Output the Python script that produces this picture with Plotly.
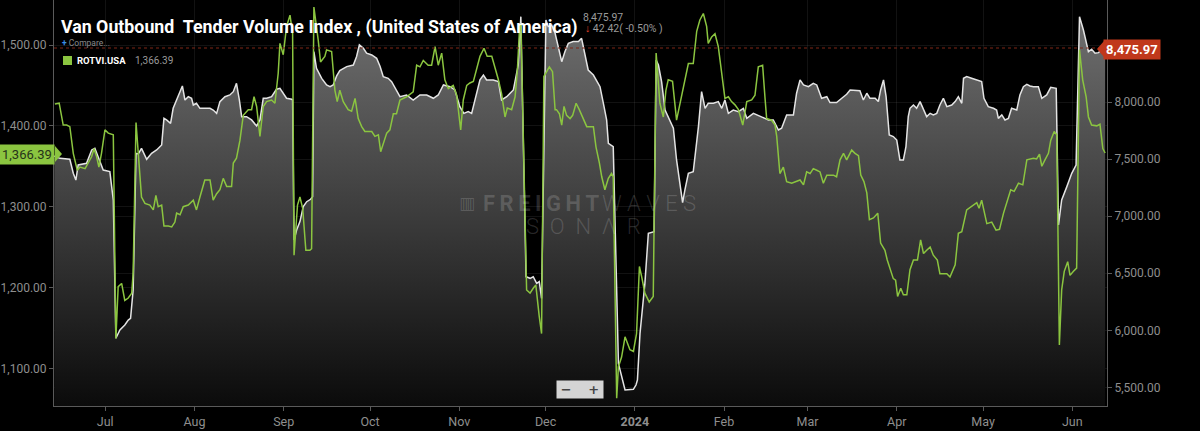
import pandas as pd
import plotly.graph_objects as go

BASE_DATE = "2023-07-01"

month_ticks = ["2023-07-01", "2023-08-01", "2023-09-01", "2023-10-01", "2023-11-01", "2023-12-01",
               "2024-01-01", "2024-02-01", "2024-03-01", "2024-04-01", "2024-05-01", "2024-06-01"]
month_labels = ["Jul", "Aug", "Sep", "Oct", "Nov", "Dec", "<b>2024</b>", "Feb", "Mar", "Apr", "May", "Jun"]

left_ticks = [1100, 1200, 1300, 1400, 1500]
right_ticks = [5500, 6000, 6500, 7000, 7500, 8000]

# ROTVI.USA (green, left axis): days since 2023-07-01 and values
rotvi_days = [
    -17.5, -16.0, -14.6, -13.4, -12.3, -11.1, -9.7, -8.8, -7.0, -5.9, -4.7, -3.9, -3.0, -2.2, -1.3, -0.1,
    1.05, 2.8, 3.7, 4.5, 5.7, 6.8, 8.0, 9.2, 9.7, 10.7, 11.5, 12.6, 13.8, 15.5, 16.7, 17.6, 18.4, 19.6,
    20.4, 21.9, 23.1, 24.2, 24.8, 26.0, 27.1, 28.85, 30.6, 31.7, 32.9, 34.6, 36.4, 37.5, 38.7, 39.85,
    41.0, 42.2, 43.9, 44.5, 45.6, 46.8, 47.96, 49.7, 50.85, 51.7, 52.6, 53.75, 54.9, 56.07, 57.8, 58.96,
    60.1, 60.7, 61.85, 63.0, 64.2, 65.1, 65.6, 66.8, 67.65, 68.6, 69.7, 71.1, 71.7, 72.5, 74.0, 74.8,
    76.3, 76.9, 78.65, 79.8, 80.6, 81.5, 82.7, 84.4, 85.6, 86.8, 87.9, 89.1, 90.2, 92.6, 93.7, 94.9,
    95.7, 96.6, 97.8, 98.9, 100.1, 101.2, 102.4,
    104.7, 107.0, 108.2, 109.35, 110.5, 112.2, 113.4, 114.6, 115.7, 116.9, 118.0, 119.2, 120.9, 122.1,
    123.5, 124.4, 125.6, 126.7, 127.9, 129.0, 130.2, 131.6, 132.7, 134.3, 135.4, 136.6, 137.7, 138.9,
    139.7, 141.2, 142.4, 143.2, 143.9, 144.4, 146.4, 147.6, 148.7, 149.6, 150.8, 151.6, 152.4, 154.3,
    155.4, 156.3, 156.8, 157.8, 158.6, 159.4, 160.3, 161.5, 162.4, 163.6, 164.7, 166.1, 167.3, 169.6,
    170.5, 171.7, 172.5, 173.6, 174.8, 175.9, 176.5, 177.7, 178.3, 179.4, 180.6, 182.3, 183.5, 184.6,
    185.6, 186.4, 187.5, 189.0, 190.4, 191.4, 192.2, 192.7, 193.9, 194.8, 195.6, 197.1, 198.5, 199.7,
    201.4, 202.6, 204.3, 205.5, 206.6, 207.8, 208.95, 209.5, 210.7, 211.85, 213.0, 214.2, 215.3, 216.5,
    217.6, 218.8, 220.0, 221.5, 222.9, 224.6, 225.75, 226.9, 228.4, 229.2, 229.8, 231.5, 232.7, 233.3,
    234.4, 235.6, 236.75, 238.5, 240.2, 241.4,
    242.6, 243.7, 244.9, 246.0, 247.2, 248.35, 249.5, 250.7, 253.0, 254.1, 255.3, 256.5, 257.6, 259.35,
    260.5, 261.7, 262.5, 263.6, 264.6, 265.5, 266.9, 268.4, 269.4, 270.9, 271.7, 272.7, 273.8, 274.6,
    275.3, 276.4, 277.3, 278.5, 279.6, 280.8, 282.2, 283.3, 284.3, 285.4, 286.6, 287.7, 289.1, 290.0,
    291.2, 292.4, 293.5, 295.3, 296.4, 297.6, 299.3, 301.0, 302.8, 303.6, 304.5, 306.3, 308.0, 309.5,
    310.7, 312.1, 313.2, 314.6, 315.8, 317.3, 318.8, 320.2, 322.5, 323.6, 324.6, 325.4, 326.5, 327.7,
    328.5, 329.7, 330.6, 331.5, 332.3, 333.2, 334.4, 335.2, 336.4, 337.5, 338.5, 339.6, 340.8, 341.6,
    342.7, 344.5, 345.6, 346.6, 347.4,
]
rotvi_vals = [
    1427, 1428, 1401, 1401, 1399, 1366, 1345, 1349, 1347, 1354, 1362, 1372, 1362, 1349, 1366, 1395,
    1391, 1389, 1137, 1201, 1205, 1184, 1187, 1193, 1218, 1404, 1366, 1312, 1304, 1302, 1296, 1314, 1300, 1302,
    1276, 1276, 1275, 1281, 1292, 1290, 1300, 1302, 1308, 1296, 1312, 1333, 1333, 1308, 1316, 1321,
    1335, 1325, 1325, 1354, 1360, 1382, 1413, 1420, 1420, 1436, 1424, 1387, 1424, 1430, 1432, 1428,
    1465, 1502, 1488, 1523, 1537, 1514, 1240, 1302, 1312, 1298, 1246, 1246, 1248, 1547, 1506, 1479,
    1486, 1494, 1492, 1444, 1430, 1444, 1430, 1420, 1418, 1434, 1409, 1399, 1393, 1393, 1387, 1389,
    1368, 1378, 1391, 1395, 1415, 1415, 1432,
    1436, 1442, 1475, 1473, 1481, 1475, 1475, 1498, 1475, 1490, 1457, 1446, 1450, 1438,
    1395, 1432, 1450, 1453, 1455, 1469, 1486, 1496, 1486, 1486, 1473, 1457, 1440, 1411,
    1422, 1420, 1436, 1469, 1517, 1527, 1197, 1193, 1199, 1203, 1164, 1143, 1461, 1473,
    1467, 1420, 1420, 1415, 1401, 1424, 1413, 1409, 1413, 1428, 1420, 1409, 1399, 1399,
    1374, 1354, 1337, 1321, 1335, 1341, 1337, 1063, 1102, 1114, 1139, 1123, 1121, 1143,
    1226, 1213, 1193, 1182, 1189, 1490, 1457, 1428, 1411, 1444, 1457, 1455, 1407, 1428,
    1457, 1477, 1477, 1517, 1531, 1539, 1523, 1502, 1510, 1514, 1498, 1465, 1434, 1436,
    1430, 1426, 1420, 1401, 1430, 1432, 1438, 1473, 1475, 1436, 1409, 1407, 1401, 1387,
    1341, 1349, 1331, 1329, 1331, 1333,
    1327, 1343, 1341, 1347, 1345, 1343, 1329, 1339, 1339, 1337, 1358, 1366, 1358, 1370,
    1366, 1363, 1339, 1331, 1317, 1284, 1286, 1292, 1255, 1246, 1234, 1222, 1211, 1209,
    1189, 1199, 1191, 1191, 1222, 1234, 1234, 1259, 1242, 1246, 1250, 1240, 1234, 1217,
    1217, 1217, 1213, 1228, 1267, 1269, 1296, 1300, 1305, 1298, 1308, 1279, 1281, 1271,
    1272, 1292, 1304, 1321, 1319, 1329, 1327, 1358, 1360, 1359, 1365, 1350, 1358, 1366,
    1382, 1393, 1389, 1129, 1197, 1220, 1232, 1215, 1220, 1224, 1494, 1457, 1436, 1411,
    1401, 1400, 1402, 1372, 1366.39,
]

# Van Outbound Tender Volume Index (white area, right axis)
votvi_days = [
    -17.7, -15.7, -12.3, -11.1, -10.2, -9.4, -6.5, -4.7, -3.6, -2.4, -0.7, 1.6, 2.8, 3.7, 5.1, 6.8,
    8.0, 8.8, 9.7, 10.7, 11.5, 12.6, 14.4, 16.1, 17.85, 19.6, 20.4, 21.3, 22.7, 23.6, 25.4, 26.8, 27.7,
    28.85, 30.0, 30.6, 31.7, 32.9, 36.4, 37.5, 38.7, 39.85, 41.6, 43.3, 44.5, 45.6, 46.6, 47.4, 49.1,
    50.85, 52.6, 53.75, 54.9, 56.07, 57.8, 59.5, 60.7, 61.85, 63.0, 64.8, 65.1, 65.6, 66.5, 67.65, 68.8,
    70.0, 71.35, 72.05, 72.5, 73.4, 75.2, 76.9, 78.1, 79.2, 80.4, 81.5, 83.9, 86.2, 87.3, 88.3, 89.7,
    90.8, 92.6, 94.3, 95.5, 96.6, 98.3, 99.5, 101.2, 102.4,
    104.7, 107.0, 109.35, 111.7, 114.0, 115.7, 117.5, 119.8, 121.5, 123.2, 124.6, 126.1, 127.3, 128.8,
    130.2, 131.4, 132.5, 134.8, 136.6, 137.7, 139.5, 141.8, 143.5, 144.4, 146.2, 147.6, 148.7, 149.9,
    150.8, 151.6, 153.1, 153.9, 155.1, 156.3, 157.4, 158.6, 159.7, 160.9, 162.6, 164.4, 165.5, 166.7,
    167.8, 169.6, 171.9, 173.3, 174.2, 174.8, 176.5, 178.3, 179.4, 180.6, 183.5, 184.4, 184.9, 185.8,
    187.5, 188.7, 190.7, 191.4, 192.2, 193.3, 194.5, 195.6, 197.4, 198.5, 199.7, 200.6, 201.4, 202.6,
    204.3, 206.1, 207.2, 208.4, 209.5, 211.3, 213.0, 214.2, 215.3, 216.5, 218.2, 220.0, 221.7, 222.9,
    225.2, 227.5, 229.2, 230.4, 232.1, 233.9, 235.0, 236.75, 239.1, 240.2, 241.4,
    242.6, 244.3, 246.0, 247.2, 248.9, 250.7, 251.8, 254.1, 255.9, 257.6, 258.8, 261.1, 262.2, 263.4,
    264.6, 265.7, 267.5, 268.6, 269.4, 270.4, 271.3, 272.4, 273.8, 275.0, 276.1, 277.3, 278.2, 279.0,
    279.6, 280.8, 281.9, 283.1, 284.3, 285.4, 286.6, 287.7, 288.9, 290.0, 291.2, 292.4, 294.1, 295.3,
    296.4, 297.6, 298.2, 299.3, 301.0, 302.8, 304.5, 305.3, 306.8, 308.6, 309.7, 310.3, 311.5, 312.6,
    313.8, 314.9, 316.7, 317.8, 319.0, 320.2, 321.3, 322.5, 324.2, 325.4, 327.1, 328.5, 330.4, 331.2,
    332.3, 334.1, 335.8, 337.3, 338.5, 339.85, 341.6, 342.7, 343.9, 345.1, 346.2, 347.4,
]
votvi_vals = [
    7529, 7508, 7500, 7377, 7318, 7450, 7465, 7582, 7596, 7523, 7406, 7392, 7143, 5930, 6003, 6047,
    6090, 6105, 6354, 7552, 7547, 7596, 7500, 7552, 7582, 7625, 7859, 7845, 7815, 7947, 8049, 8143, 8020,
    8049, 8035, 7976, 7991, 7947, 7947, 7932, 7903, 8006, 8049, 8064, 8093, 8166, 8020, 7874, 7874,
    7845, 7792, 7845, 8035, 8035, 8049, 8114, 8122, 8079, 8035, 8026, 8020, 6792, 6880, 6953, 7085,
    7128, 7149, 7172, 8444, 8298, 8210, 8152, 8137, 8152, 8231, 8278, 8313, 8327, 8400, 8503, 8473,
    8430, 8415, 8386, 8313, 8225, 8210, 8181, 8108, 8049,
    8064, 8020, 8064, 8064, 8035, 8064, 8152, 8137, 8108, 7962, 7903, 7918, 7903, 8049,
    8196, 8239, 8196, 8196, 8181, 8020, 8049, 8108, 8327, 8751, 6470, 6456, 6470, 6412,
    6427, 6280, 8722, 8664, 8678, 8605, 8488, 8356, 8444, 8517, 8532, 8532, 8561, 8400,
    8283, 8239, 8137, 7962, 7845, 7640, 7611, 5710, 5593, 5476, 5482, 5520, 5564, 5973,
    6412, 6851, 6865, 8371, 8327, 8181, 7932, 7874, 7772, 7494, 7260, 7120, 7231, 7377,
    7392, 7786, 8093, 7947, 7991, 7991, 8006, 7947, 8020, 7903, 7932, 7918, 7947, 7859,
    7903, 7874, 7859, 7845, 7845, 7757, 7772, 7889, 7889, 8079, 8196,
    8152, 8137, 8166, 8152, 8035, 8049, 7997, 7997, 8035, 8070, 8108, 8108, 8102, 8020,
    8079, 8035, 8035, 8006, 8108, 8196, 8049, 7713, 7699, 7669, 7494, 7494, 7611, 7874,
    7947, 7976, 7947, 8006, 7932, 7874, 7903, 7889, 7903, 7976, 8035, 7962, 7976, 8006,
    8049, 7991, 8210, 8225, 8210, 8196, 8181, 8035, 7962, 7947, 7932, 7859, 7889, 7845,
    7859, 7947, 7932, 8064, 8137, 8158, 8143, 8137, 8137, 8035, 8064, 8131, 8122, 6924,
    7143, 7260, 7377, 7450, 8751, 8634, 8444, 8465, 8430, 8435, 8465, 8475.97,
]

last_votvi = 8475.97
last_rotvi = 1366.39
title_text = "Van Outbound  Tender Volume Index , (United States of America)"
change_text = "42.42( -0.50% )"
legend_name = "ROTVI.USA"

base = pd.Timestamp(BASE_DATE)
rotvi_dates = base + pd.to_timedelta(rotvi_days, unit="D")
votvi_dates = base + pd.to_timedelta(votvi_days, unit="D")

# ---- layout geometry (pixels) ----
W, H = 1200, 431
ML, MR, MT, MB = 54, 93, 0, 25
PW = W - ML - MR
PH = H - MT - MB
R_RANGE = [5336, 8897]
L_RANGE = [1053.4, 1555.7]


def px(x):
    return (x - ML) / PW


def py(y):
    return (H - MB - y) / PH


GRID = "rgba(255,255,255,0.07)"
AXIS = "#5a5a5a"
TICKF = dict(family="Roboto, sans-serif", size=12, color="#8e8e8e")
XTICKF = dict(family="Roboto, sans-serif", size=12.5, color="#8e8e8e")

fig = go.Figure()
fig.add_trace(go.Scatter(
    x=votvi_dates, y=votvi_vals, yaxis="y", mode="lines",
    line=dict(color="#e4e4e4", width=1.5),
    fill="tozeroy",
    fillgradient=dict(type="vertical", colorscale=[[0, "#0b0b0b"], [1, "#737373"]],
                      start=R_RANGE[0], stop=R_RANGE[1]),
    hoverinfo="skip", showlegend=False,
))
fig.add_trace(go.Scatter(
    x=rotvi_dates, y=rotvi_vals, yaxis="y2", mode="lines",
    line=dict(color="#8bc540", width=1.5),
    hoverinfo="skip", showlegend=False,
))

fig.update_layout(
    width=W, height=H,
    margin=dict(l=ML, r=MR, t=MT, b=MB, pad=0, autoexpand=False),
    paper_bgcolor="#000000", plot_bgcolor="#000000",
    font=dict(family="Roboto, sans-serif", color="#8e8e8e"),
    xaxis=dict(type="date", range=["2023-06-13 04:48", "2024-06-13 01:12"],
               tickvals=month_ticks, ticktext=month_labels, tickfont=XTICKF,
               showgrid=True, gridcolor=GRID, gridwidth=1, automargin=False,
               showline=True, linecolor=AXIS, linewidth=1,
               ticks="outside", ticklen=4, tickcolor=AXIS, zeroline=False),
    yaxis=dict(side="right", range=R_RANGE, tickvals=right_ticks, tickformat=",.2f",
               tickfont=TICKF, showgrid=True, gridcolor=GRID, automargin=False,
               showline=True, linecolor=AXIS, linewidth=1,
               ticks="outside", ticklen=4, tickcolor=AXIS, zeroline=False),
    yaxis2=dict(side="left", overlaying="y", range=L_RANGE, tickvals=left_ticks, tickformat=",.2f",
                tickfont=TICKF, showgrid=True, gridcolor=GRID, automargin=False,
                showline=True, linecolor=AXIS, linewidth=1,
                ticks="outside", ticklen=4, tickcolor=AXIS, zeroline=False),
    showlegend=False,
)

shapes = []
# last value dotted line
shapes.append(dict(type="line", xref="paper", yref="y", x0=0, x1=1, y0=last_votvi, y1=last_votvi,
                   line=dict(color="#7e2617", width=1, dash="dot")))
# legend swatch
shapes.append(dict(type="rect", xref="paper", yref="paper", x0=px(63), x1=px(72), y0=py(65), y1=py(56),
                   fillcolor="#8bc540", line=dict(width=0)))
# label pointers
g_y = py(154)
shapes.append(dict(type="path", xref="paper", yref="paper",
                   path=f"M {px(55)},{py(146)} L {px(62)},{g_y} L {px(55)},{py(162)} Z",
                   fillcolor="#8bc540", line=dict(width=0)))
r_y = py(49)
shapes.append(dict(type="path", xref="paper", yref="paper",
                   path=f"M {px(1104)},{py(41)} L {px(1097)},{r_y} L {px(1104)},{py(57)} Z",
                   fillcolor="#c0381b", line=dict(width=0)))
fig.update_layout(shapes=shapes)

TS = "\u2009"  # thin space for letter spacing in the watermark

ann = []
ann.append(dict(xref="paper", yref="paper", x=px(59), y=py(27), xanchor="left", yanchor="middle",
                text=f"<b>{title_text}</b>", showarrow=False,
                font=dict(family="Roboto, sans-serif", size=17.8, color="#ffffff")))
ann.append(dict(xref="paper", yref="paper", x=px(581), y=py(17), xanchor="left", yanchor="middle",
                text=f"{last_votvi:,.2f}", showarrow=False,
                font=dict(family="Roboto, sans-serif", size=10.5, color="#9a9a9a")))
ann.append(dict(xref="paper", yref="paper", x=px(583), y=py(28), xanchor="left", yanchor="middle",
                text=f"<span style='color:#e0402a'>↓</span> {change_text}", showarrow=False,
                font=dict(family="Roboto, sans-serif", size=10.5, color="#9a9a9a")))
ann.append(dict(xref="paper", yref="paper", x=px(60), y=py(43), xanchor="left", yanchor="middle",
                text="<span style='color:#3a8ee6'><b>+</b></span> Compare...", showarrow=False,
                font=dict(family="Roboto, sans-serif", size=8.5, color="#8a8a8a")))
ann.append(dict(xref="paper", yref="paper", x=px(75), y=py(60), xanchor="left", yanchor="middle",
                text=f"<b>{legend_name}</b>", showarrow=False,
                font=dict(family="Roboto, sans-serif", size=9.5, color="#ffffff")))
ann.append(dict(xref="paper", yref="paper", x=px(133), y=py(60), xanchor="left", yanchor="middle",
                text=f"{last_rotvi:,.2f}", showarrow=False,
                font=dict(family="Roboto, sans-serif", size=10, color="#9a9a9a")))
# value labels
ann.append(dict(xref="paper", yref="paper", x=px(55), y=g_y, xanchor="right", yanchor="middle",
                text=f"{last_rotvi:,.2f}", showarrow=False, bgcolor="#8bc540", borderpad=2,
                font=dict(family="Roboto, sans-serif", size=13, color="#26331a")))
ann.append(dict(xref="paper", yref="paper", x=px(1103), y=r_y, xanchor="left", yanchor="middle",
                text=f"<b>{last_votvi:,.2f}</b>", showarrow=False, bgcolor="#c0381b", borderpad=2,
                font=dict(family="Roboto, sans-serif", size=13, color="#ffffff")))
# watermark
WM = "rgba(255,255,255,0.16)"
ann.append(dict(xref="paper", yref="paper", x=px(457), y=py(203), xanchor="left", yanchor="middle",
                text="<b>▥</b>", showarrow=False, font=dict(family="DejaVu Sans", size=17, color=WM)))
ann.append(dict(xref="paper", yref="paper", x=px(481), y=py(203), xanchor="left", yanchor="middle",
                text="<b>" + TS.join("FREIGHT") + "</b>", showarrow=False,
                font=dict(family="Roboto, sans-serif", size=22, color=WM)))
ann.append(dict(xref="paper", yref="paper", x=px(600), y=py(203), xanchor="left", yanchor="middle",
                text=" ".join("WAVES"), showarrow=False,
                font=dict(family="Roboto, sans-serif", size=22, color=WM, weight=300)))
ann.append(dict(xref="paper", yref="paper", x=px(583), y=py(227), xanchor="center", yanchor="middle",
                text="  ".join("SONΛR"), showarrow=False,
                font=dict(family="Roboto, sans-serif", size=22, color=WM, weight=300)))
# zoom buttons
ann.append(dict(xref="paper", yref="paper", x=px(580), y=py(389.5), xanchor="center", yanchor="middle",
                text="<b>−</b>    <b>+</b>", showarrow=False, bgcolor="#d4d4d4", borderpad=1,
                width=44, height=15,
                font=dict(family="DejaVu Sans, sans-serif", size=13, color="#444444")))
fig.update_layout(annotations=ann)

fig.write_html("out.html", config={"displayModeBar": False},
               post_script="document.body.style.margin='0px';document.body.style.background='#000';")
